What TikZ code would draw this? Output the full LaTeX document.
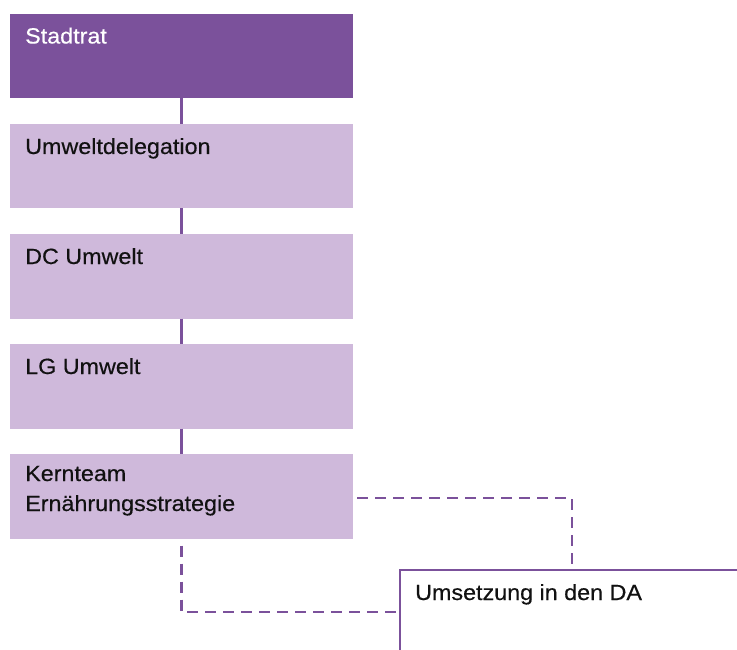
\documentclass[tikz,border=0pt]{standalone}
\usepackage{fontspec}
\setmainfont[FakeStretch=1.06,FakeBold=0.4]{Liberation Sans}
\definecolor{darkpurple}{HTML}{7B519B}
\definecolor{lightpurple}{HTML}{CFB9DB}
\definecolor{textdark}{HTML}{111111}
\begin{document}
\begin{tikzpicture}[x=1pt,y=-1pt,
  boxbase/.style={rectangle,inner sep=0pt,outer sep=0pt,minimum width=343pt,minimum height=84.5pt,anchor=north west},
  topbox/.style={boxbase,fill=darkpurple},
  orgbox/.style={boxbase,fill=lightpurple},
  boxtext/.style={inner sep=0pt,anchor=base west,align=left,font=\fontsize{22}{30}\selectfont,text=textdark},
  solidlink/.style={draw=darkpurple,line width=2.4pt},
  dashlink/.style={draw=darkpurple,line width=2.4pt,dash pattern=on 11pt off 7pt,dash phase=11pt}
]
\useasboundingbox (0,0) rectangle (737,650);
\fill[white] (0,0) rectangle (737,650);

\node[topbox] (stadtrat) at (10,14) {};
\node[orgbox] (umwelt) at (10,124) {};
\node[orgbox] (dc) at (10,234) {};
\node[orgbox] (lg) at (10,344) {};
\node[orgbox] (kern) at (10,454) {};
\node[rectangle,inner sep=0pt,outer sep=0pt,minimum width=337pt,minimum height=80pt,anchor=north west,fill=white] (ums) at (400,570) {};

\node[boxtext,text=white] (stadtratT) at (25,43.5) {Stadtrat};
\node[boxtext] (umweltT) at (25,154) {Umweltdelegation};
\node[boxtext] (dcT) at (25,264) {DC Umwelt};
\node[boxtext] (lgT) at (25,374) {LG Umwelt};
\node[boxtext] (kernT) at (25,511) {Kernteam\\Ernährungsstrategie};
\node[boxtext] (umsT) at (415,600) {Umsetzung in den DA};

\draw[solidlink] (stadtrat.south) -- (umwelt.north);
\draw[solidlink] (umwelt.south) -- (dc.north);
\draw[solidlink] (dc.south) -- (lg.north);
\draw[solidlink] (lg.south) -- (kern.north);

\coordinate (c1) at (572,570);
\coordinate (c2) at (400,612);
\draw[dashlink,dash phase=14pt] ([yshift=-2pt]kern.east) -| (c1);
\draw[dashlink] (kern.south) |- (c2);

\draw[solidlink,line cap=rect] (ums.north east) -- (ums.north west) -- (ums.south west);
\end{tikzpicture}
\end{document}
